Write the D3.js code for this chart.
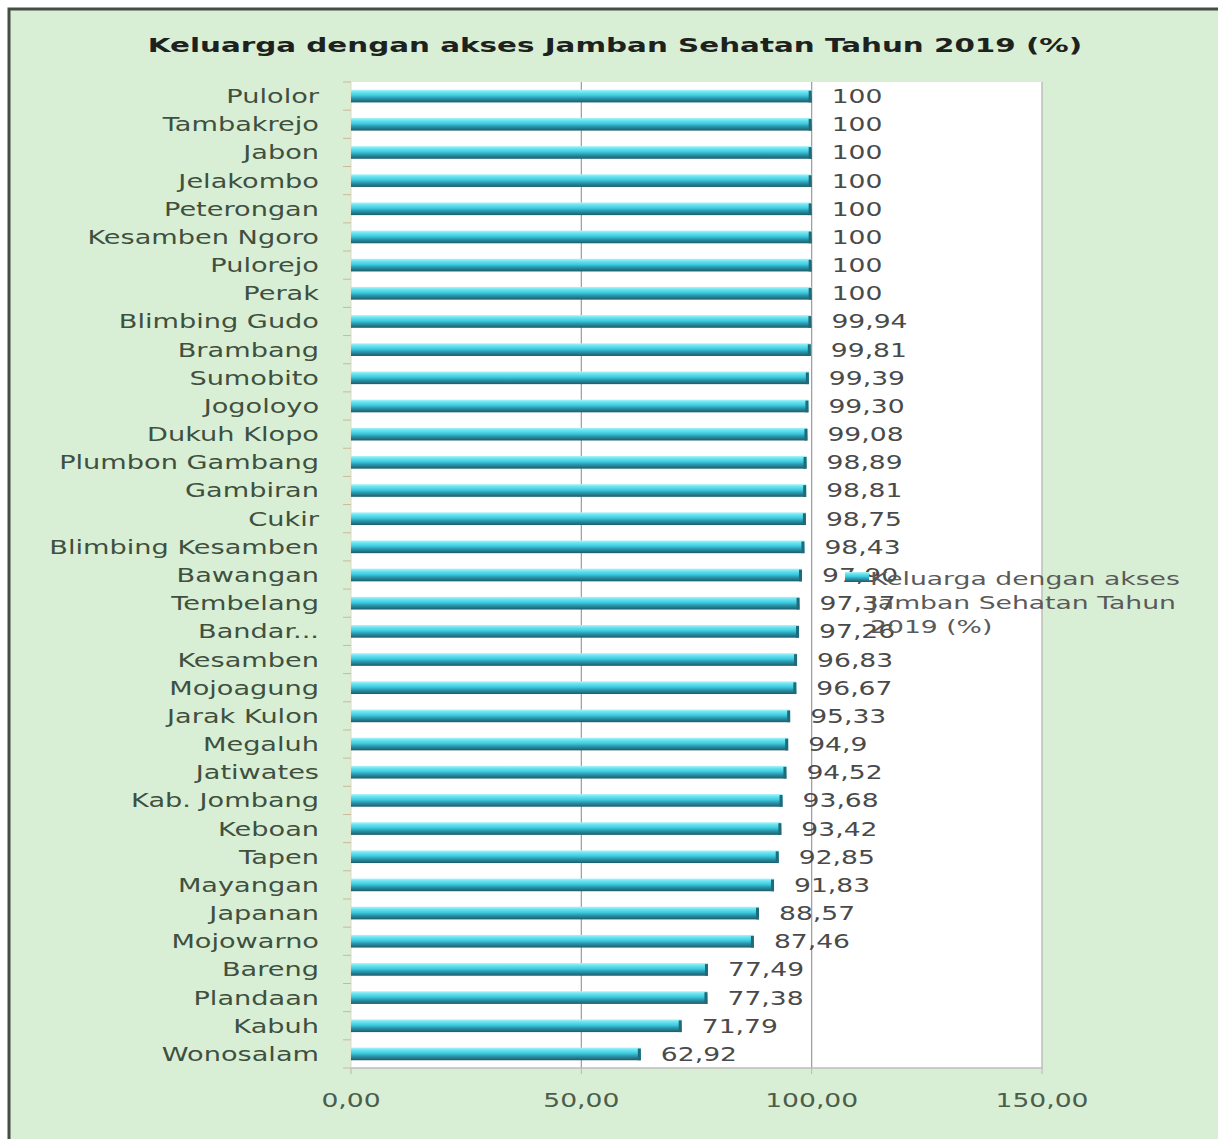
<!DOCTYPE html>
<html>
<head>
<meta charset="utf-8">
<script src="https://cdn.jsdelivr.net/npm/d3@7"></script>
<style>
  html, body { margin: 0; padding: 0; background: #ffffff; }
  svg { display: block; }
  text { font-family: "DejaVu Sans", Verdana, sans-serif; }
</style>
</head>
<body>
<svg id="chart" width="1218" height="1139"></svg>
<script>
// ---- data ----
const chartTitle = "Keluarga dengan akses Jamban Sehatan Tahun 2019 (%)";
const seriesName = "Keluarga dengan akses Jamban Sehatan Tahun 2019 (%)";
const legendLines = ["Keluarga dengan akses", "Jamban Sehatan Tahun", "2019 (%)"];
const categories = [
  "Pulolor", "Tambakrejo", "Jabon", "Jelakombo", "Peterongan", "Kesamben Ngoro",
  "Pulorejo", "Perak", "Blimbing Gudo", "Brambang", "Sumobito", "Jogoloyo",
  "Dukuh Klopo", "Plumbon Gambang", "Gambiran", "Cukir", "Blimbing Kesamben",
  "Bawangan", "Tembelang", "Bandar...", "Kesamben", "Mojoagung", "Jarak Kulon",
  "Megaluh", "Jatiwates", "Kab. Jombang", "Keboan", "Tapen", "Mayangan",
  "Japanan", "Mojowarno", "Bareng", "Plandaan", "Kabuh", "Wonosalam"
];
const values = [
  100, 100, 100, 100, 100, 100,
  100, 100, 99.94, 99.81, 99.39, 99.30,
  99.08, 98.89, 98.81, 98.75, 98.43,
  97.90, 97.37, 97.26, 96.83, 96.67, 95.33,
  94.9, 94.52, 93.68, 93.42, 92.85, 91.83,
  88.57, 87.46, 77.49, 77.38, 71.79, 62.92
];
const valueText = [
  "100", "100", "100", "100", "100", "100",
  "100", "100", "99,94", "99,81", "99,39", "99,30",
  "99,08", "98,89", "98,81", "98,75", "98,43",
  "97,90", "97,37", "97,26", "96,83", "96,67", "95,33",
  "94,9", "94,52", "93,68", "93,42", "92,85", "91,83",
  "88,57", "87,46", "77,49", "77,38", "71,79", "62,92"
];
const xTicks = [0, 50, 100, 150];
const xDomain = [0, 150];

// ---- layout ----
const W = 1218, H = 1139;
const plot = { left: 351, right: 1042, top: 82, bottom: 1068 };

const svg = d3.select("#chart");
const locale = d3.formatLocale({ decimal: ",", thousands: ".", grouping: [3], currency: ["", ""] });
const fmtTick = locale.format(".2f");

// gradient for the bars
const defs = svg.append("defs");
const grad = defs.append("linearGradient").attr("id", "barGrad")
  .attr("x1", 0).attr("y1", 0).attr("x2", 0).attr("y2", 1);
[["0%", "#aef4fa"], ["18%", "#6ee4f0"], ["45%", "#3ccbe0"], ["68%", "#2a96ab"], ["100%", "#1b5c6b"]]
  .forEach(([o, c]) => grad.append("stop").attr("offset", o).attr("stop-color", c));

// background and frame
svg.append("rect").attr("x", 0).attr("y", 0).attr("width", W).attr("height", H).attr("fill", "#ffffff");
svg.append("rect").attr("x", 9).attr("y", 9).attr("width", W + 50).attr("height", H + 50)
  .attr("fill", "#d9efd5").attr("stroke", "#474c47").attr("stroke-width", 3);

// scales
const x = d3.scaleLinear().domain(xDomain).range([plot.left, plot.right]);
const pi = 0.55;
const y = d3.scaleBand().domain(categories).range([plot.top, plot.bottom])
  .paddingInner(pi).paddingOuter(pi / 2);

// plot area
svg.append("rect").attr("x", plot.left).attr("y", plot.top)
  .attr("width", plot.right - plot.left).attr("height", plot.bottom - plot.top)
  .attr("fill", "#ffffff");

// gridlines
svg.append("g").selectAll("line").data(xTicks.filter(t => t > 0 && t < xDomain[1])).join("line")
  .attr("x1", d => x(d)).attr("x2", d => x(d))
  .attr("y1", plot.top).attr("y2", plot.bottom)
  .attr("stroke", "#9a9a9a").attr("stroke-width", 1.2);

// plot border right/bottom
svg.append("path")
  .attr("d", `M${plot.right},${plot.top}V${plot.bottom}H${plot.left}`)
  .attr("fill", "none").attr("stroke", "#bdbdbd").attr("stroke-width", 1.5);

// y axis (category ticks between bands)
const step = y.step();
const boundaries = d3.range(categories.length + 1).map(i => plot.top + i * step);
svg.append("line").attr("x1", plot.left).attr("x2", plot.left)
  .attr("y1", plot.top).attr("y2", plot.bottom).attr("stroke", "#e0d8c4").attr("stroke-width", 1);
svg.append("g").selectAll("line").data(boundaries).join("line")
  .attr("x1", plot.left - 8).attr("x2", plot.left)
  .attr("y1", d => d).attr("y2", d => d)
  .attr("stroke", "#cdb79a").attr("stroke-width", 1);

// x axis ticks
svg.append("g").selectAll("line").data(xTicks).join("line")
  .attr("x1", d => x(d)).attr("x2", d => x(d))
  .attr("y1", plot.bottom).attr("y2", plot.bottom + 6)
  .attr("stroke", "#b8b8b8").attr("stroke-width", 1);

// stretched text helper (the source image is stretched horizontally)
function stext(g, tx, ty, str, anchor, sx) {
  return g.append("text")
    .attr("transform", `translate(${tx},${ty}) scale(${sx},1)`)
    .attr("text-anchor", anchor || "start")
    .text(str);
}

// x tick labels
const xl = svg.append("g").attr("fill", "#4b5d4b").style("font-size", "19px");
xTicks.forEach(t => stext(xl, x(t), 1107, fmtTick(t), "middle", 1.4));

// bars
svg.append("g").selectAll("rect").data(categories).join("rect")
  .attr("x", x(0))
  .attr("y", d => y(d))
  .attr("width", (d, i) => x(values[i]) - x(0))
  .attr("height", y.bandwidth())
  .attr("fill", "url(#barGrad)");
// darker end cap
svg.append("g").selectAll("rect").data(categories).join("rect")
  .attr("x", (d, i) => x(values[i]) - 3)
  .attr("y", d => y(d) + 1)
  .attr("width", 3)
  .attr("height", y.bandwidth() - 1)
  .attr("fill", "#1f6b7a");

// category labels
const cl = svg.append("g").attr("fill", "#3f503f").style("font-size", "19px");
categories.forEach(c => stext(cl, 319, y(c) + y.bandwidth() / 2 + 7, c, "end", 1.43));

// value labels
const vl = svg.append("g").attr("fill", "#4a4a4a").style("font-size", "19px");
categories.forEach((c, i) => stext(vl, x(values[i]) + 20, y(c) + y.bandwidth() / 2 + 7, valueText[i], "start", 1.4));

// legend
const lg = svg.append("g");
lg.append("rect").attr("x", 845).attr("y", 572).attr("width", 24).attr("height", 10)
  .attr("fill", "url(#barGrad)");
const lt = lg.append("g").attr("fill", "#5a5a5a").style("font-size", "18px");
legendLines.forEach((l, i) => stext(lt, 870, 585 + i * 24, l, "start", 1.48));

// title
const tg = svg.append("g").attr("fill", "#1e221e").style("font-size", "20px").style("font-weight", "bold");
stext(tg, 615, 52, chartTitle, "middle", 1.47);
</script>
</body>
</html>
